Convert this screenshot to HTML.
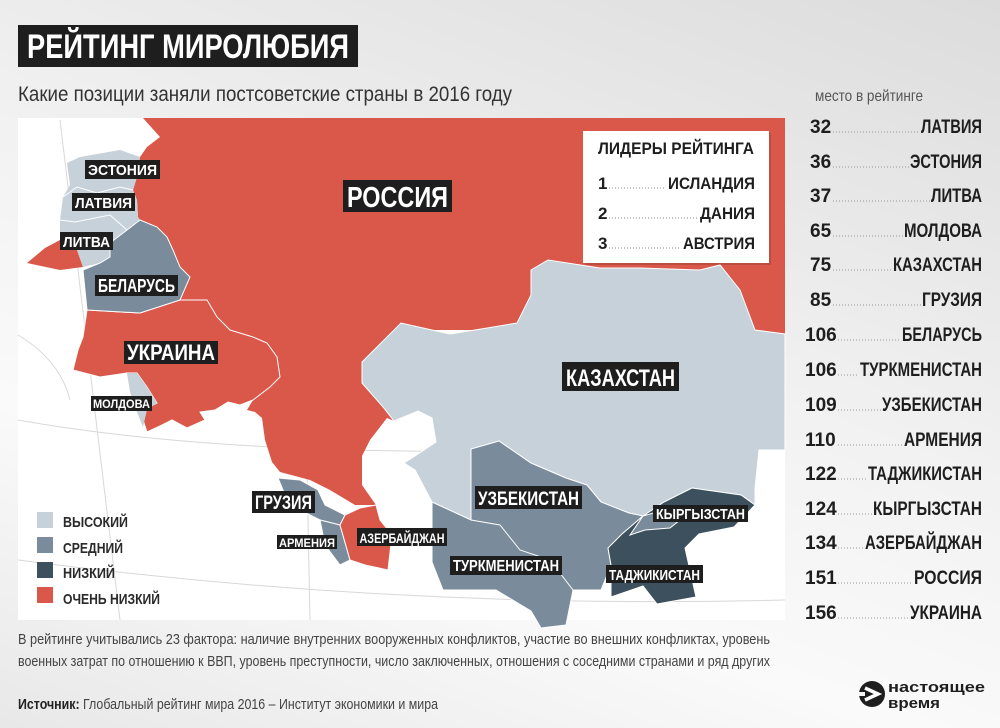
<!DOCTYPE html>
<html><head><meta charset="utf-8"><style>
html,body{margin:0;padding:0;}
body{width:1000px;height:728px;overflow:hidden;background:linear-gradient(200deg,#dcdcdc 0%,#f2f2f2 45%,#fafafa 70%,#e8e8e8 100%);font-family:"Liberation Sans Narrow","Liberation Sans",sans-serif;}
svg{display:block}
</style></head><body>
<svg width="1000" height="728" viewBox="0 0 1000 728" xmlns="http://www.w3.org/2000/svg" font-family="'Liberation Sans Narrow','Liberation Sans',sans-serif">
<!-- map area -->
<rect x="18" y="118" width="767" height="502" fill="#ffffff"/>
<g stroke="#d8d8d8" stroke-width="1" fill="none">
<path d="M18,420 Q300,470 785,440"/>
<path d="M18,560 Q400,610 785,600"/>
<path d="M120,620 L60,120"/>
<path d="M310,620 L300,120"/>
<path d="M560,620 L570,560"/>
<path d="M18,335 Q60,360 70,400"/>
</g>
<!-- Russia -->
<polygon fill="#d9584a" points="143,118 785,118 785,334 755,330 740,290 720,265 700,270 640,268 600,268 560,262 548,260 531,270 531,295 517,323 475,330 432,330 401,323 383,341 362,362 362,383 383,407 394,421 387,418 370,440 362,456 362,485 376,505 355,505 330,490 310,480 280,472 272,462 265,440 262,418 255,412 247,410 253,400 270,387 280,377 277,357 267,343 253,337 230,330 217,317 207,300 180,300 190,277 180,267 173,250 167,237 157,227 140,220 138,217 137,200 133,190 137,177 140,157 147,147 160,137"/>
<!-- Ukraine -->
<polygon fill="#d9584a" stroke="#fff" stroke-width="1" points="87,310 140,313 180,300 207,300 217,317 230,330 253,337 267,343 277,357 280,377 270,387 253,400 240,405 228,402 215,410 200,412 205,420 187,428 172,420 160,426 147,432 143,420 143,410 157,403 147,387 137,373 127,373 100,377 73,370 78,350 83,337"/>
<!-- Moldova -->
<polygon fill="#c6d1da" points="127,373 137,373 147,387 157,403 147,410 143,427 137,412 130,392"/>
<!-- Kaliningrad -->
<polygon fill="#d9584a" points="27,263 45,248 60,240 77,250 83,267 60,270"/>
<!-- Baltic -->
<polygon fill="#c6d1da" points="67,163 80,157 120,150 140,157 137,177 133,190 137,200 138,217 140,220 127,230 110,243 110,257 100,263 83,267 77,250 60,240 60,220 63,197 70,185"/>
<polygon fill="#c6d1da" points="70,178 76,172 82,180 75,188"/>
<g stroke="#fff" stroke-width="1" fill="none"><path d="M63,197 L77,187 L97,193 L120,187 L133,190"/><path d="M60,220 L75,222 L110,215 L127,230"/></g>
<!-- Belarus -->
<polygon fill="#7a8c9c" stroke="#fff" stroke-width="1" points="87,310 83,270 100,263 110,257 110,243 127,230 140,220 157,227 167,237 173,250 180,267 190,277 180,300 140,313"/>
<!-- Kazakhstan -->
<polygon fill="#c6d1da" stroke="#fff" stroke-width="1" points="362,362 383,341 401,323 432,330 450,334 475,330 517,323 531,295 531,270 548,260 600,268 640,268 700,270 720,265 740,290 755,330 785,334 785,450 759,450 755,488 755,505 741,495 692,488 664,502 643,516 629,513 601,502 587,485 566,478 531,463 499,441 471,449 471,520 432,502 415,470 404,463 415,456 436,442 432,418 418,411 394,421 383,407 362,383"/>
<!-- Uzbek + Turkmen -->
<polygon fill="#7a8c9c" stroke="#fff" stroke-width="1" points="432,502 471,520 471,449 499,441 531,463 566,478 587,485 601,502 629,513 643,516 622,534 608,548 611,565 601,590 573,590 566,625 541,628 531,611 496,590 443,590 432,562"/>
<g stroke="#fff" stroke-width="1" fill="none"><path d="M471,520 L500,525 L520,550 L550,560 L573,590"/></g>
<!-- Kyrgyz / Tajik -->
<polygon fill="#3d505d" stroke="#fff" stroke-width="1" points="643,516 664,502 692,488 741,495 755,505 734,527 699,534 685,548 696,597 657,604 643,586 611,597 611,565 608,548 622,534"/>
<polygon fill="#7a8c9c" stroke="#fff" stroke-width="1" points="643,516 664,510 680,520 670,528 645,530 630,535"/>
<!-- Caucasus -->
<polygon fill="#7a8c9c" stroke="#fff" stroke-width="1" points="278,478 300,480 318,490 325,505 345,515 340,525 320,520 300,510 285,495"/>
<polygon fill="#7a8c9c" stroke="#fff" stroke-width="1" points="320,520 340,525 350,560 340,565 325,545"/>
<polygon fill="#d9584a" stroke="#fff" stroke-width="1" points="340,525 345,515 360,508 376,505 380,520 392,535 388,570 365,565 350,560"/>

<!-- Labels -->
<g fill="#1e1e1e">
<rect x="85" y="160" width="75" height="19"/><rect x="72" y="193" width="63" height="18"/><rect x="60" y="232" width="53" height="18"/>
<rect x="95" y="275" width="83" height="21"/><rect x="124" y="341" width="94" height="23"/><rect x="91" y="396" width="61" height="15"/>
<rect x="343" y="180" width="109" height="32"/><rect x="562" y="362" width="117" height="29"/>
<rect x="252" y="491" width="63" height="22"/><rect x="277" y="535" width="60" height="14"/><rect x="357" y="528" width="90" height="18"/>
<rect x="475" y="486" width="107" height="23"/><rect x="450" y="556" width="112" height="19"/><rect x="653" y="505" width="95" height="17"/><rect x="606" y="565" width="97" height="18"/>
</g>
<g fill="#fff" font-weight="bold" text-anchor="middle" lengthAdjust="spacingAndGlyphs">
<text x="122.5" y="175" font-size="15" textLength="69" lengthAdjust="spacingAndGlyphs">ЭСТОНИЯ</text>
<text x="103.5" y="208" font-size="15" textLength="57" lengthAdjust="spacingAndGlyphs">ЛАТВИЯ</text>
<text x="86.5" y="247" font-size="15" textLength="47" lengthAdjust="spacingAndGlyphs">ЛИТВА</text>
<text x="136.5" y="292" font-size="18" textLength="77" lengthAdjust="spacingAndGlyphs">БЕЛАРУСЬ</text>
<text x="171" y="360" font-size="22" textLength="88" lengthAdjust="spacingAndGlyphs">УКРАИНА</text>
<text x="121.5" y="408" font-size="12" textLength="57" lengthAdjust="spacingAndGlyphs">МОЛДОВА</text>
<text x="397.5" y="207" font-size="29" textLength="101" lengthAdjust="spacingAndGlyphs">РОССИЯ</text>
<text x="620.5" y="386" font-size="24" textLength="109" lengthAdjust="spacingAndGlyphs">КАЗАХСТАН</text>
<text x="283.5" y="509" font-size="19" textLength="57" lengthAdjust="spacingAndGlyphs">ГРУЗИЯ</text>
<text x="307" y="547" font-size="12" textLength="56" lengthAdjust="spacingAndGlyphs">АРМЕНИЯ</text>
<text x="402" y="543" font-size="14" textLength="85" lengthAdjust="spacingAndGlyphs">АЗЕРБАЙДЖАН</text>
<text x="528.5" y="505" font-size="19" textLength="101" lengthAdjust="spacingAndGlyphs">УЗБЕКИСТАН</text>
<text x="506" y="571" font-size="16" textLength="106" lengthAdjust="spacingAndGlyphs">ТУРКМЕНИСТАН</text>
<text x="700.5" y="519" font-size="15" textLength="89" lengthAdjust="spacingAndGlyphs">КЫРГЫЗСТАН</text>
<text x="654.5" y="580" font-size="15" textLength="91" lengthAdjust="spacingAndGlyphs">ТАДЖИКИСТАН</text>
</g>

<!-- Leaders box -->
<rect x="585" y="133" width="186" height="132" fill="#000" opacity="0.12"/>
<rect x="583" y="131" width="186" height="132" fill="#fff"/>
<g font-weight="bold" fill="#1e1e1e" font-size="17">
<text x="676" y="154" text-anchor="middle" textLength="156" lengthAdjust="spacingAndGlyphs">ЛИДЕРЫ РЕЙТИНГА</text>
<text x="598" y="189">1</text><text x="598" y="219">2</text><text x="598" y="249">3</text>
<text x="755" y="189" text-anchor="end" textLength="87" lengthAdjust="spacingAndGlyphs">ИСЛАНДИЯ</text>
<text x="755" y="219" text-anchor="end" textLength="55" lengthAdjust="spacingAndGlyphs">ДАНИЯ</text>
<text x="755" y="249" text-anchor="end" textLength="72" lengthAdjust="spacingAndGlyphs">АВСТРИЯ</text>
</g>
<g stroke="#888" stroke-width="1" stroke-dasharray="1 2">
<line x1="609" y1="188" x2="666" y2="188"/><line x1="609" y1="218" x2="698" y2="218"/><line x1="609" y1="248" x2="681" y2="248"/>
</g>

<!-- Title -->
<rect x="18" y="25" width="340" height="42" fill="#1e1e1e"/>
<text x="188" y="58" text-anchor="middle" fill="#fff" font-weight="bold" font-size="34" textLength="322" lengthAdjust="spacingAndGlyphs">РЕЙТИНГ МИРОЛЮБИЯ</text>
<text x="18" y="101" fill="#333" font-size="21" textLength="494" lengthAdjust="spacingAndGlyphs">Какие позиции заняли постсоветские страны в 2016 году</text>

<!-- Right list -->
<text x="815" y="101" fill="#555" font-size="16" textLength="108" lengthAdjust="spacingAndGlyphs">место в рейтинге</text>
<g font-weight="bold" fill="#1e1e1e" font-size="19">
<text x="810" y="133">32</text><text x="982" y="133" text-anchor="end" textLength="61" lengthAdjust="spacingAndGlyphs">ЛАТВИЯ</text>
<text x="810" y="168">36</text><text x="982" y="168" text-anchor="end" textLength="72" lengthAdjust="spacingAndGlyphs">ЭСТОНИЯ</text>
<text x="810" y="202">37</text><text x="982" y="202" text-anchor="end" textLength="51" lengthAdjust="spacingAndGlyphs">ЛИТВА</text>
<text x="810" y="237">65</text><text x="982" y="237" text-anchor="end" textLength="78" lengthAdjust="spacingAndGlyphs">МОЛДОВА</text>
<text x="810" y="271">75</text><text x="982" y="271" text-anchor="end" textLength="89" lengthAdjust="spacingAndGlyphs">КАЗАХСТАН</text>
<text x="810" y="306">85</text><text x="982" y="306" text-anchor="end" textLength="60" lengthAdjust="spacingAndGlyphs">ГРУЗИЯ</text>
<text x="805" y="341">106</text><text x="982" y="341" text-anchor="end" textLength="80" lengthAdjust="spacingAndGlyphs">БЕЛАРУСЬ</text>
<text x="805" y="376">106</text><text x="982" y="376" text-anchor="end" textLength="122" lengthAdjust="spacingAndGlyphs">ТУРКМЕНИСТАН</text>
<text x="805" y="411">109</text><text x="982" y="411" text-anchor="end" textLength="100" lengthAdjust="spacingAndGlyphs">УЗБЕКИСТАН</text>
<text x="805" y="446">110</text><text x="982" y="446" text-anchor="end" textLength="78" lengthAdjust="spacingAndGlyphs">АРМЕНИЯ</text>
<text x="805" y="480">122</text><text x="982" y="480" text-anchor="end" textLength="114" lengthAdjust="spacingAndGlyphs">ТАДЖИКИСТАН</text>
<text x="805" y="515">124</text><text x="982" y="515" text-anchor="end" textLength="109" lengthAdjust="spacingAndGlyphs">КЫРГЫЗСТАН</text>
<text x="805" y="549">134</text><text x="982" y="549" text-anchor="end" textLength="117" lengthAdjust="spacingAndGlyphs">АЗЕРБАЙДЖАН</text>
<text x="805" y="584">151</text><text x="982" y="584" text-anchor="end" textLength="68" lengthAdjust="spacingAndGlyphs">РОССИЯ</text>
<text x="805" y="619">156</text><text x="982" y="619" text-anchor="end" textLength="72" lengthAdjust="spacingAndGlyphs">УКРАИНА</text>
</g>
<g stroke="#999" stroke-width="1" stroke-dasharray="1 2">
<line x1="833" y1="132" x2="920" y2="132"/><line x1="833" y1="167" x2="909" y2="167"/><line x1="833" y1="201" x2="930" y2="201"/>
<line x1="833" y1="236" x2="903" y2="236"/><line x1="833" y1="270" x2="892" y2="270"/><line x1="833" y1="305" x2="921" y2="305"/>
<line x1="838" y1="340" x2="901" y2="340"/><line x1="838" y1="375" x2="859" y2="375"/><line x1="838" y1="410" x2="881" y2="410"/>
<line x1="838" y1="445" x2="903" y2="445"/><line x1="838" y1="479" x2="867" y2="479"/><line x1="838" y1="514" x2="872" y2="514"/>
<line x1="838" y1="548" x2="864" y2="548"/><line x1="838" y1="583" x2="913" y2="583"/><line x1="838" y1="618" x2="909" y2="618"/>
</g>

<!-- Legend -->
<rect x="37" y="512" width="16" height="16" fill="#c6d1da"/>
<rect x="37" y="537" width="16" height="16" fill="#7a8c9c"/>
<rect x="37" y="562" width="16" height="16" fill="#3d505d"/>
<rect x="37" y="587" width="16" height="16" fill="#d9584a"/>
<g font-weight="bold" fill="#2a2a2a" font-size="15">
<text x="63" y="527" textLength="65" lengthAdjust="spacingAndGlyphs">ВЫСОКИЙ</text>
<text x="63" y="553" textLength="60" lengthAdjust="spacingAndGlyphs">СРЕДНИЙ</text>
<text x="63" y="578" textLength="52" lengthAdjust="spacingAndGlyphs">НИЗКИЙ</text>
<text x="63" y="604" textLength="97" lengthAdjust="spacingAndGlyphs">ОЧЕНЬ НИЗКИЙ</text>
</g>

<!-- Footer -->
<g fill="#444" font-size="15">
<text x="18" y="644" textLength="752" lengthAdjust="spacingAndGlyphs">В рейтинге учитывались 23 фактора: наличие внутренних вооруженных конфликтов, участие во внешних конфликтах, уровень</text>
<text x="18" y="666" textLength="752" lengthAdjust="spacingAndGlyphs">военных затрат по отношению к ВВП, уровень преступности, число заключенных, отношения с соседними странами и ряд других</text>
<text x="18" y="709" textLength="420" lengthAdjust="spacingAndGlyphs"><tspan font-weight="bold" fill="#222">Источник:</tspan> Глобальный рейтинг мира 2016 – Институт экономики и мира</text>
</g>

<!-- Logo -->
<circle cx="872" cy="694" r="13" fill="#1e1e1e"/>
<path d="M865,688 L878,694 L865,700" stroke="#fff" stroke-width="3.5" fill="none"/>
<rect x="859" y="692" width="6" height="4" fill="#f5f5f5"/>
<g fill="#1e1e1e" font-weight="bold" font-size="15">
<text x="888" y="692" textLength="97" lengthAdjust="spacingAndGlyphs">настоящее</text>
<text x="888" y="708" textLength="52" lengthAdjust="spacingAndGlyphs">время</text>
</g>
</svg>
</body></html>
